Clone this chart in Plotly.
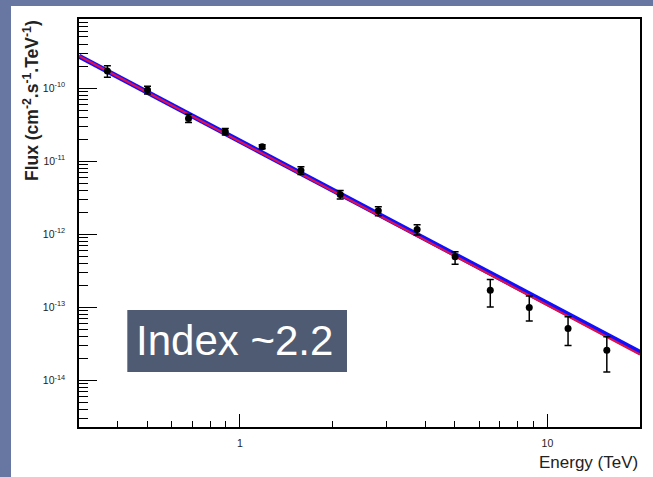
import plotly.graph_objects as go

# ---- data ----
energy = [0.371, 0.501, 0.681, 0.897, 1.182, 1.58, 2.12, 2.82, 3.77, 5.01, 6.52, 8.73, 11.67, 15.6]
flux = [1.71e-10, 9.4e-11, 3.84e-11, 2.52e-11, 1.57e-11, 7.45e-12, 3.49e-12, 2.09e-12,
        1.16e-12, 4.89e-13, 1.71e-13, 9.9e-14, 5.1e-14, 2.58e-14]
err_up = [3.1e-11, 1.2e-11, 5.2e-12, 2.8e-12, 1.1e-12, 9.1e-13, 4.7e-13, 2.8e-13,
          1.8e-13, 8.4e-14, 6.8e-14, 4.3e-14, 2.3e-14, 1.35e-14]
err_down = [3.1e-11, 1.1e-11, 4.6e-12, 2.5e-12, 1.0e-12, 8.9e-13, 4.7e-13, 3.1e-13,
            1.9e-13, 1.01e-13, 7.0e-14, 3.45e-14, 2.1e-14, 1.28e-14]

fit_energy = [0.3, 20]
fit_blue = [2.72e-10, 2.42e-14]
fit_red = [2.75e-10, 2.25e-14]

x_major = [1, 10]
x_major_text = ["1", "10"]
x_minor = [0.4, 0.5, 0.6, 0.7, 0.8, 0.9, 2, 3, 4, 5, 6, 7, 8, 9, 20]
y_major = [1e-14, 1e-13, 1e-12, 1e-11, 1e-10]
y_major_text = ["10<sup>-14</sup>", "10<sup>-13</sup>", "10<sup>-12</sup>", "10<sup>-11</sup>", "10<sup>-10</sup>"]
y_minor = [m * 10.0 ** e for e in range(-15, -9) for m in range(2, 10)]

FONT = "Liberation Sans, Arial, Helvetica, sans-serif"
SLIDE = "#6777a1"

fig = go.Figure()
fig.add_trace(go.Scatter(x=fit_energy, y=fit_blue, mode="lines",
                         line=dict(color="#1010ff", width=5), hoverinfo="skip"))
fig.add_trace(go.Scatter(x=fit_energy, y=fit_red, mode="lines",
                         line=dict(color="#e0104a", width=2.2), hoverinfo="skip"))
fig.add_trace(go.Scatter(
    x=energy, y=flux, mode="markers",
    marker=dict(color="black", size=7, symbol="circle"),
    error_y=dict(type="data", symmetric=False, array=err_up, arrayminus=err_down,
                 color="black", thickness=1.5, width=3.5),
))

fig.update_layout(
    width=653, height=477,
    margin=dict(l=79, r=13, t=19, b=50),
    paper_bgcolor=SLIDE, plot_bgcolor="white",
    showlegend=False,
    font=dict(family=FONT, color="#222"),
    shapes=[
        dict(type="rect", xref="paper", yref="paper", x0=-0.1212, x1=1.03, y0=-0.13, y1=1.0319,
             fillcolor="white", line=dict(width=0), layer="below"),
        dict(type="rect", xref="paper", yref="paper", x0=0.0861, x1=0.4777, y0=0.1348, y1=0.2868,
             fillcolor="#4f5b73", line=dict(width=0), layer="above"),
    ],
    annotations=[
        dict(text="Index ~2.2", xref="paper", yref="paper", x=0.278, y=0.212,
             xanchor="center", yanchor="middle", showarrow=False,
             font=dict(family=FONT, size=42, color="white")),
        dict(text="<b>Flux (cm<sup>-2</sup>.s<sup>-1</sup>.TeV<sup>-1</sup>)</b>",
             xref="paper", yref="paper", x=-0.0855, y=0.799, textangle=-90,
             xanchor="center", yanchor="middle", showarrow=False,
             font=dict(family=FONT, size=17.5, color="#222")),
        dict(text="Energy (TeV)", xref="paper", yref="paper", x=1.0, y=-0.0858,
             xanchor="right", yanchor="middle", showarrow=False,
             font=dict(family=FONT, size=17, color="#222")),
    ],
)

fig.update_xaxes(
    type="log", range=[-0.5229, 1.3010],
    tickmode="array", tickvals=x_major, ticktext=x_major_text,
    ticks="inside", ticklen=13, tickwidth=1.3, tickcolor="black",
    minor=dict(tickmode="array", tickvals=x_minor, ticks="inside", ticklen=6,
               tickwidth=1.3, tickcolor="black", showgrid=False),
    showgrid=False, zeroline=False,
    showline=True, linecolor="black", linewidth=1.5, mirror=True,
    tickfont=dict(family=FONT, size=10.5, color="#222"),
    ticklabelstandoff=6,
)
fig.update_yaxes(
    type="log", range=[-14.64, -9.055],
    tickmode="array", tickvals=y_major, ticktext=y_major_text,
    ticks="inside", ticklen=18, tickwidth=1.3, tickcolor="black",
    minor=dict(tickmode="array", tickvals=y_minor, ticks="inside", ticklen=9,
               tickwidth=1.3, tickcolor="black", showgrid=False),
    showgrid=False, zeroline=False,
    showline=True, linecolor="black", linewidth=1.5, mirror=True,
    tickfont=dict(family=FONT, size=10.5, color="#222"),
    ticklabelstandoff=10,
)

fig.write_html("out.html")
